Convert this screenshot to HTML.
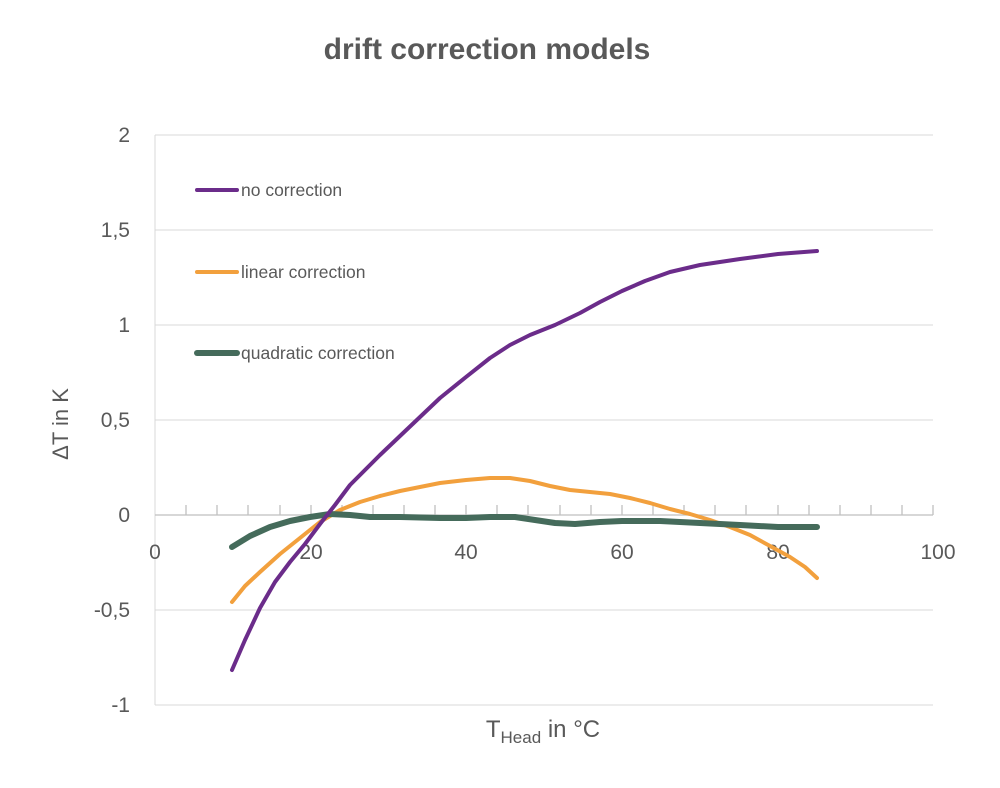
<!DOCTYPE html>
<html><head><style>body{margin:0;background:#fff}</style></head><body>
<svg width="1000" height="783" xmlns="http://www.w3.org/2000/svg" font-family="Liberation Sans, sans-serif">
<rect width="1000" height="783" fill="#fff"/>
<text x="487" y="59" text-anchor="middle" font-size="30" font-weight="bold" fill="#595959">drift correction models</text>
<g stroke="#d9d9d9" stroke-width="1">
<line x1="155" y1="135" x2="933" y2="135"/><line x1="155" y1="230" x2="933" y2="230"/>
<line x1="155" y1="325" x2="933" y2="325"/><line x1="155" y1="420" x2="933" y2="420"/>
<line x1="155" y1="610" x2="933" y2="610"/><line x1="155" y1="705" x2="933" y2="705"/>
<line x1="155" y1="135" x2="155" y2="705"/>
</g>
<g stroke="#bfbfbf" stroke-width="1.3">
<line x1="155" y1="515" x2="933" y2="515"/>
<path d="M186 505V515M217 505V515M248 505V515M280 505V515M311 505V515M342 505V515M373 505V515M404 505V515M435 505V515M466 505V515M497 505V515M528 505V515M560 505V515M591 505V515M622 505V515M653 505V515M684 505V515M715 505V515M746 505V515M778 505V515M809 505V515M840 505V515M871 505V515M902 505V515M933 505V515"/>
</g>
<g font-size="21" fill="#595959" text-anchor="end">
<text x="130" y="142">2</text><text x="130" y="237">1,5</text><text x="130" y="332">1</text>
<text x="130" y="427">0,5</text><text x="130" y="522">0</text><text x="130" y="617">-0,5</text><text x="130" y="712">-1</text>
</g>
<g font-size="21" fill="#595959" text-anchor="middle">
<text x="155" y="559">0</text><text x="311" y="559">20</text><text x="466" y="559">40</text>
<text x="622" y="559">60</text><text x="778" y="559">80</text><text x="938" y="559">100</text>
</g>
<text transform="translate(68,424) rotate(-90)" text-anchor="middle" font-size="22" fill="#595959">ΔT in K</text>
<text x="543" y="737" text-anchor="middle" font-size="24" fill="#595959">T<tspan font-size="17" dy="6">Head</tspan><tspan dy="-6"> in °C</tspan></text>
<g fill="none" stroke-linecap="round" stroke-linejoin="round">
<path stroke="#f2a03d" stroke-width="4" d="M232 602 L245 586 L260 572 L280 554 L300 538 L320 522 L340 510 L360 502 L380 496 L400 491 L420 487 L440 483 L466 480 L490 478 L510 478 L530 481 L550 486 L570 490 L590 492 L610 494 L630 498 L650 503 L670 509 L690 514 L710 520 L730 527 L750 535 L770 546 L790 557 L805 567 L817 578"/>
<path stroke="#456b5b" stroke-width="6" d="M232 547 L250 536 L270 527 L290 521 L310 517 L330 514 L350 515 L370 517 L400 517 L440 518 L466 518 L490 517 L515 517 L535 520 L555 523 L575 524 L600 522 L622 521 L660 521 L700 523 L740 525 L778 527 L817 527"/>
<path stroke="#6b2c8a" stroke-width="4" d="M232 670 L245 640 L260 608 L275 582 L290 562 L305 544 L320 524 L335 505 L350 485 L365 470 L380 455 L400 436 L420 417 L440 398 L466 377 L490 358 L510 345 L530 335 L555 325 L580 313 L600 302 L622 291 L645 281 L670 272 L700 265 L740 259 L778 254 L817 251"/>
<line x1="197" y1="190" x2="237" y2="190" stroke="#6b2c8a" stroke-width="4"/>
<line x1="197" y1="272" x2="237" y2="272" stroke="#f2a03d" stroke-width="4"/>
<line x1="197" y1="353" x2="237" y2="353" stroke="#456b5b" stroke-width="6"/>
</g>
<g font-size="17.5" fill="#595959">
<text x="241" y="196">no correction</text><text x="241" y="278">linear correction</text><text x="241" y="359">quadratic correction</text>
</g>
</svg>
</body></html>
